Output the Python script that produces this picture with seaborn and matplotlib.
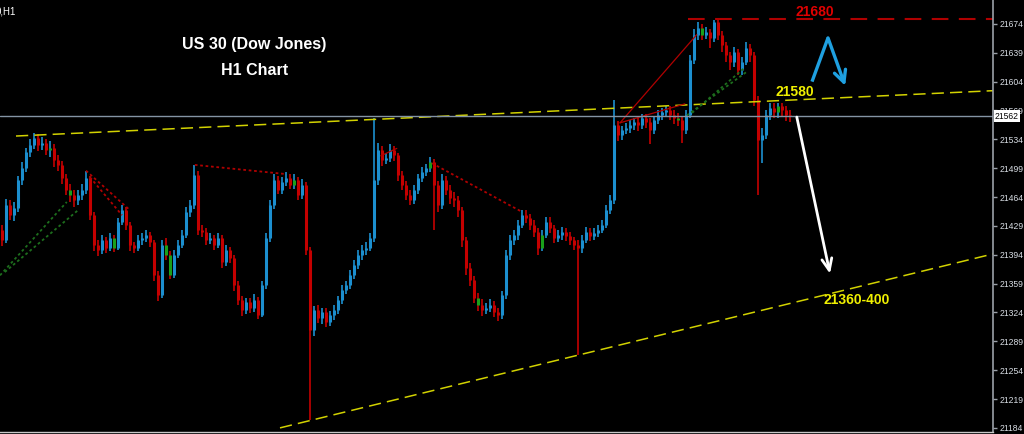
import matplotlib
matplotlib.use("Agg")
import matplotlib.pyplot as plt
import matplotlib.transforms as mtransforms
import seaborn as sns

# ---------------------------
# Data: US30 hourly bars
# ---------------------------

opens = [21424, 21412, 21454, 21442, 21451, 21485, 21499, 21519, 21527, 21536,
         21527, 21530, 21521, 21523, 21509, 21503, 21487, 21473, 21466, 21460,
         21466, 21473, 21487, 21442, 21406, 21400, 21412, 21402, 21414, 21402,
         21434, 21448, 21430, 21406, 21402, 21412, 21414, 21418, 21409, 21369,
         21345, 21406, 21394, 21369, 21394, 21406, 21418, 21446, 21454, 21491,
         21424, 21422, 21412, 21414, 21406, 21414, 21385, 21400, 21390, 21357,
         21339, 21327, 21337, 21329, 21339, 21321, 21357, 21414, 21454, 21485,
         21473, 21482, 21487, 21479, 21485, 21466, 21479, 21400, 21303, 21327,
         21317, 21325, 21312, 21321, 21327, 21339, 21351, 21357, 21369, 21382,
         21394, 21400, 21402, 21414, 21485, 21521, 21509, 21511, 21521, 21515,
         21491, 21479, 21466, 21460, 21473, 21487, 21494, 21499, 21506, 21479,
         21454, 21485, 21473, 21463, 21460, 21448, 21412, 21378, 21363, 21342,
         21333, 21327, 21329, 21333, 21325, 21321, 21345, 21394, 21412, 21418,
         21430, 21442, 21439, 21430, 21422, 21402, 21418, 21434, 21426, 21414,
         21418, 21422, 21417, 21412, 21406, 21402, 21412, 21422, 21417, 21420,
         21424, 21430, 21448, 21460, 21551, 21539, 21545, 21548, 21551, 21555,
         21551, 21560, 21555, 21545, 21557, 21564, 21567, 21570, 21564, 21560,
         21557, 21545, 21564, 21630, 21661, 21669, 21661, 21664, 21657, 21676,
         21661, 21648, 21636, 21628, 21640, 21618, 21628, 21645, 21636, 21582,
         21533, 21539, 21564, 21572, 21567, 21574, 21570, 21564]

closes = [21412, 21454, 21442, 21451, 21485, 21499, 21519, 21527, 21536, 21527,
          21530, 21521, 21523, 21509, 21503, 21487, 21473, 21466, 21460, 21466,
          21473, 21487, 21442, 21406, 21400, 21412, 21402, 21414, 21402, 21434,
          21448, 21430, 21406, 21402, 21412, 21414, 21418, 21409, 21369, 21345,
          21406, 21394, 21369, 21394, 21406, 21418, 21446, 21454, 21491, 21424,
          21422, 21412, 21414, 21406, 21414, 21385, 21400, 21390, 21357, 21339,
          21327, 21337, 21329, 21339, 21321, 21357, 21414, 21454, 21485, 21473,
          21482, 21487, 21479, 21485, 21466, 21479, 21400, 21303, 21327, 21317,
          21325, 21312, 21321, 21327, 21339, 21351, 21357, 21369, 21382, 21394,
          21400, 21402, 21414, 21485, 21521, 21509, 21511, 21521, 21515, 21491,
          21479, 21466, 21460, 21473, 21487, 21494, 21499, 21506, 21479, 21454,
          21485, 21473, 21463, 21460, 21448, 21412, 21378, 21363, 21342, 21333,
          21327, 21329, 21333, 21325, 21321, 21345, 21394, 21412, 21418, 21430,
          21442, 21439, 21430, 21422, 21402, 21418, 21434, 21426, 21414, 21418,
          21422, 21417, 21412, 21406, 21402, 21412, 21422, 21417, 21420, 21424,
          21430, 21448, 21460, 21551, 21539, 21545, 21548, 21551, 21555, 21551,
          21560, 21555, 21545, 21557, 21564, 21567, 21570, 21564, 21560, 21557,
          21545, 21564, 21630, 21661, 21669, 21661, 21664, 21657, 21676, 21661,
          21648, 21636, 21628, 21640, 21618, 21628, 21645, 21636, 21582, 21533,
          21539, 21564, 21572, 21567, 21574, 21570, 21564, 21562]

highs = [21430, 21462, 21460, 21458, 21490, 21506, 21524, 21535, 21542, 21540,
         21537, 21534, 21532, 21528, 21515, 21508, 21492, 21480, 21472, 21472,
         21480, 21495, 21490, 21446, 21412, 21418, 21416, 21420, 21418, 21438,
         21454, 21452, 21434, 21410, 21418, 21420, 21424, 21422, 21412, 21374,
         21412, 21414, 21398, 21400, 21412, 21424, 21452, 21460, 21503, 21496,
         21430, 21426, 21420, 21418, 21420, 21418, 21406, 21404, 21394, 21362,
         21344, 21342, 21341, 21346, 21343, 21362, 21420, 21460, 21492, 21490,
         21488, 21494, 21492, 21492, 21488, 21486, 21482, 21404, 21332, 21333,
         21330, 21330, 21326, 21333, 21344, 21357, 21362, 21376, 21388, 21400,
         21406, 21410, 21420, 21560, 21530, 21526, 21518, 21528, 21526, 21518,
         21496, 21484, 21472, 21478, 21492, 21500, 21504, 21512, 21510, 21484,
         21492, 21490, 21478, 21470, 21465, 21452, 21416, 21384, 21368, 21348,
         21340, 21336, 21340, 21338, 21330, 21350, 21400, 21418, 21424, 21436,
         21448, 21448, 21444, 21436, 21426, 21424, 21440, 21440, 21430, 21424,
         21428, 21427, 21422, 21416, 21412, 21418, 21428, 21426, 21426, 21430,
         21436, 21454, 21466, 21582, 21556, 21550, 21554, 21557, 21560, 21560,
         21565, 21565, 21560, 21562, 21569, 21572, 21575, 21574, 21570, 21566,
         21562, 21570, 21636, 21668, 21676, 21674, 21670, 21668, 21679, 21679,
         21665, 21652, 21640, 21646, 21644, 21634, 21652, 21650, 21640, 21586,
         21548, 21570, 21578, 21578, 21578, 21578, 21574, 21570]

lows = [21405, 21408, 21436, 21435, 21446, 21478, 21494, 21512, 21522, 21520,
        21521, 21515, 21512, 21500, 21495, 21480, 21466, 21458, 21452, 21454,
        21460, 21468, 21436, 21398, 21392, 21395, 21396, 21398, 21397, 21400,
        21430, 21424, 21398, 21396, 21398, 21406, 21410, 21404, 21362, 21338,
        21342, 21388, 21364, 21366, 21390, 21402, 21414, 21440, 21450, 21418,
        21416, 21406, 21407, 21400, 21402, 21378, 21380, 21384, 21350, 21333,
        21320, 21322, 21323, 21325, 21316, 21318, 21352, 21410, 21450, 21468,
        21468, 21477, 21474, 21474, 21460, 21462, 21394, 21194, 21296, 21311,
        21310, 21306, 21307, 21315, 21322, 21334, 21346, 21352, 21364, 21377,
        21388, 21394, 21398, 21410, 21478, 21502, 21504, 21506, 21508, 21484,
        21472, 21460, 21454, 21455, 21468, 21482, 21489, 21494, 21424, 21446,
        21450, 21467, 21456, 21452, 21440, 21404, 21370, 21356, 21335, 21326,
        21320, 21322, 21324, 21318, 21314, 21316, 21340, 21388, 21406, 21412,
        21426, 21433, 21424, 21416, 21394, 21398, 21414, 21420, 21408, 21409,
        21412, 21411, 21406, 21400, 21272, 21396, 21408, 21411, 21412, 21415,
        21420, 21426, 21444, 21456, 21532, 21533, 21540, 21542, 21545, 21544,
        21546, 21548, 21528, 21540, 21552, 21558, 21561, 21558, 21553, 21550,
        21530, 21540, 21560, 21625, 21655, 21654, 21656, 21645, 21652, 21655,
        21640, 21628, 21618, 21622, 21612, 21612, 21624, 21628, 21575, 21466,
        21505, 21535, 21558, 21560, 21560, 21562, 21556, 21555]

# bars whose body shows green
green_bars = [12, 17, 28, 41, 42, 73, 107, 119, 135, 169, 175, 194]

price_ticks = [21184, 21219, 21254, 21289, 21324, 21359, 21394, 21429,
               21464, 21499, 21534, 21569, 21604, 21639, 21674]
last_price = 21562
resistance_top = 21680

# trend lines: (bar0, price0, bar1, price1)
upper_channel = (3.5, 21538, 247.75, 21593)
lower_channel = (69.5, 21184, 247.75, 21395)
red_dotted = [(21, 21496, 32, 21448), (22, 21488, 30, 21442),
              (48.2, 21503, 70.7, 21492), (107.5, 21505, 130, 21446)]
red_solid = [(154.5, 21554, 173.7, 21661), (154.5, 21554, 170.7, 21577),
             (94.7, 21514, 98.7, 21523)]
green_dotted = [(-0.5, 21369, 16.2, 21458), (0.7, 21373, 19, 21448),
                (171.2, 21563, 186.2, 21616), (172.5, 21566, 185.7, 21621)]
blue_arrow = [(202.5, 21604), (206.5, 21657), (210.8, 21599)]
white_arrow = [(198.7, 21561), (207, 21371)]

# ---------------------------
# Style
# ---------------------------

sns.set_theme(style="dark", rc={
    "axes.facecolor": "black",
    "figure.facecolor": "black",
    "axes.grid": False,
})
plt.rcParams["font.family"] = ["Liberation Sans", "DejaVu Sans"]

UP = "#1c8fcf"
DOWN = "#c40000"
GREEN = "#1aa01a"
YELLOW = "#d2d200"

fig = plt.figure(figsize=(10.24, 4.34), dpi=100)
ax = fig.add_axes([0, 2 / 434, 993 / 1024, 432 / 434])

# ---------------------------
# Candles
# ---------------------------

xs = list(range(len(closes)))
colors = []
for i in xs:
    if i in green_bars:
        colors.append(GREEN)
    elif closes[i] >= opens[i]:
        colors.append(UP)
    else:
        colors.append(DOWN)

wick_cols = [UP if closes[i] >= opens[i] else DOWN for i in xs]
ax.vlines(xs, lows, highs, colors=wick_cols, linewidth=1.2)
ax.vlines(xs, [min(o, c) for o, c in zip(opens, closes)],
          [max(o, c) for o, c in zip(opens, closes)],
          colors=colors, linewidth=2.2)

# ---------------------------
# Lines drawn on the chart
# ---------------------------

def seg(line, **kw):
    sns.lineplot(x=[line[0], line[2]], y=[line[1], line[3]], ax=ax,
                 sort=False, estimator=None, legend=False, **kw)

seg(upper_channel, color=YELLOW, linewidth=1.1, dashes=(8, 4))
seg(lower_channel, color=YELLOW, linewidth=1.1, dashes=(8, 4))
for l in red_dotted:
    seg(l, color="#b00000", linewidth=1.3, dashes=(1.5, 1.5))
for l in red_solid:
    seg(l, color="#b00000", linewidth=0.9)
for l in green_dotted:
    seg(l, color="#1d6e1d", linewidth=1.3, dashes=(1.5, 1.5))

ax.axhline(last_price, color="#8494a4", linewidth=1.0)
ax.plot([171.5, 247.75], [resistance_top, resistance_top], color="#b00000",
        linewidth=1.5, dashes=(8, 5))

# arrows
ax.plot([blue_arrow[0][0], blue_arrow[1][0]], [blue_arrow[0][1], blue_arrow[1][1]],
        color="#1fa0e0", linewidth=2.4, solid_capstyle="butt")
ax.annotate("", xy=blue_arrow[2], xytext=blue_arrow[1],
            arrowprops=dict(arrowstyle="->,head_length=0.7,head_width=0.35",
                            color="#1fa0e0", lw=2.4, shrinkA=0, shrinkB=0))
ax.annotate("", xy=white_arrow[1], xytext=white_arrow[0],
            arrowprops=dict(arrowstyle="->,head_length=0.7,head_width=0.3",
                            color="white", lw=2.0, shrinkA=0, shrinkB=0))

# ---------------------------
# Texts
# ---------------------------

ax.text(0.256, 0.896, "US 30 (Dow Jones)", transform=ax.transAxes, color="white",
        fontsize=11.5, fontweight="bold", ha="center", va="center")
ax.text(0.256, 0.836, "H1 Chart", transform=ax.transAxes, color="white",
        fontsize=11.5, fontweight="bold", ha="center", va="center")
ax.text(203.2, 21688, "21680", color="#e00000", fontsize=10, fontweight="bold",
        ha="center", va="center")
ax.text(198.2, 21591, "21580", color="#f0f000", fontsize=10, fontweight="bold",
        ha="center", va="center")
ax.text(213.7, 21339, "21360-400", color="#f0f000", fontsize=10, fontweight="bold",
        ha="center", va="center")
fig.text(-0.004, 0.985, "0,H1", color="white", fontsize=7, ha="left", va="top")

# ---------------------------
# Axes
# ---------------------------

ax.set_xlim(-0.5, 247.75)
ax.set_ylim(21179, 21703)
ax.set_xticks([])
ax.yaxis.tick_right()
ax.set_yticks(price_ticks)
ax.set_yticklabels([str(v) for v in price_ticks])
ax.tick_params(axis="y", colors="#9aa0a8", labelcolor="#d8dde4", labelsize=6.2,
               length=3, width=1, direction="out", pad=1.5)
for side in ["left", "top"]:
    ax.spines[side].set_visible(False)
ax.spines["right"].set_color("#9aa0a8")
ax.spines["right"].set_linewidth(1.2)
ax.spines["bottom"].set_color("#c8c8c8")
ax.spines["bottom"].set_linewidth(1.0)

trans = mtransforms.blended_transform_factory(ax.transAxes, ax.transData)
ax.text(1.002, last_price, str(last_price), transform=trans, color="black",
        fontsize=6.2, ha="left", va="center", clip_on=False,
        bbox=dict(facecolor="white", edgecolor="none", pad=1.0))

fig.savefig("out.png", dpi=100, facecolor="black")
